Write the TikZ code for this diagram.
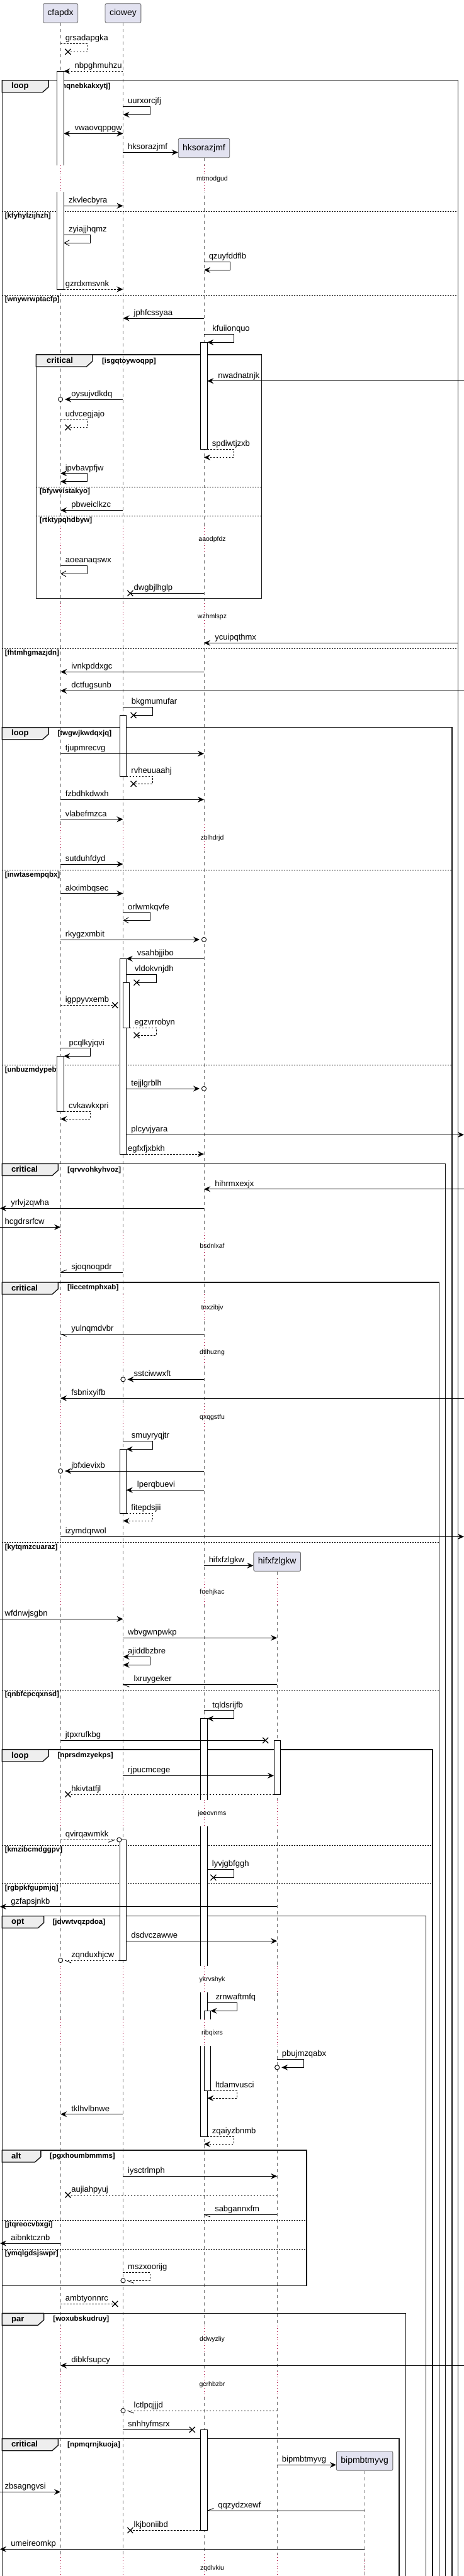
\documentclass[tikz,border=0pt]{standalone}
\usepackage{fontspec}
\setmainfont{Liberation Sans}
\usepackage{tikz}
\usetikzlibrary{arrows.meta}

\definecolor{partfill}{HTML}{E2E2F0}
\definecolor{tabgray}{HTML}{EEEEEE}
\definecolor{delayred}{HTML}{A80036}

\newcommand{\lostmark}[1]{\draw[line width=1.3pt] (#1) ++(-4.5pt,-4.5pt) -- ++(9pt,9pt) ++(-9pt,0pt) -- ++(9pt,-9pt);}
\newcommand{\grouptab}[6]{%
  \filldraw[grptab] (#1,#2) -- (#3,#2) -- (#3,#2+10.5) -- (#3-20,#2+19) -- (#1,#2+19) -- cycle;
  \node[tabtxt] (#4) at (#1+#5,#2+10.5) {#6};}

\begin{document}
\begin{tikzpicture}[x=0.47335pt, y=-1pt,
  lifeline/.style={draw=black!55, line width=0.7pt, dash pattern=on 5pt off 5pt},
  delayline/.style={draw=delayred, line width=0.9pt, dash pattern=on 1pt off 3.5pt},
  partbox/.style={draw=black!60, fill=partfill, rounded corners=2pt, line width=0.8pt, minimum height=30.3pt, inner xsep=7pt, inner ysep=0pt, font=\fontsize{14}{16}\selectfont},
  grpframe/.style={draw=black!90, line width=1.4pt},
  grptab/.style={draw=black!90, fill=tabgray, line width=1.4pt},
  tabtxt/.style={anchor=mid west, inner sep=0pt, font=\bfseries\fontsize{13}{15}\selectfont},
  guard/.style={anchor=mid west, inner sep=0pt, font=\bfseries\fontsize{11.5}{13}\selectfont},
  divider/.style={draw=black, line width=0.7pt, dash pattern=on 2pt off 2pt},
  actbar/.style={draw=black, fill=white, line width=0.8pt},
  msg/.style={draw=black, line width=0.9pt},
  ret/.style={msg, dash pattern=on 2.5pt off 2.5pt},
  fulltip/.style={-{Stealth[length=10pt,width=9pt,inset=3.5pt]}},
  bothtip/.style={{Stealth[length=10pt,width=9pt,inset=3.5pt]}-{Stealth[length=10pt,width=9pt,inset=3.5pt]}},
  opentip/.style={-{Straight Barb[length=8pt,width=9pt]}},
  lbl/.style={anchor=base west, inner sep=0pt, font=\fontsize{13}{15}\selectfont, xshift=7.3pt, yshift=4.5pt},
  lblr/.style={anchor=base west, inner sep=0pt, font=\fontsize{13}{15}\selectfont, xshift=16.8pt, yshift=4.5pt},
  lblact/.style={anchor=base west, inner sep=0pt, font=\fontsize{13}{15}\selectfont, xshift=13pt, yshift=4.5pt},
  delaytxt/.style={inner sep=0pt, font=\fontsize{10.5}{12}\selectfont}]

  \useasboundingbox (0,0) rectangle (1557,4096);

  \node[partbox] (cfapdx) at (203,20.85) {cfapdx};
  \node[partbox] (ciowey) at (413,20.85) {ciowey};
  \node[partbox] (hksorazjmf) at (684.5,235.5) {hksorazjmf};
  \node[partbox] (hifxfzlgkw) at (930,2483) {hifxfzlgkw};
  \node[partbox] (bipmbtmyvg) at (1223.5,3913) {bipmbtmyvg};

  \coordinate (cfapdx-l) at ([xshift=-5.2pt]cfapdx.center);
  \coordinate (cfapdx-r) at ([xshift=5.2pt]cfapdx.center);
  \coordinate (ciowey-l) at ([xshift=-5.2pt]ciowey.center);
  \coordinate (ciowey-r) at ([xshift=5.2pt]ciowey.center);
  \coordinate (ciowey-rr) at ([xshift=10.4pt]ciowey.center);
  \coordinate (hksorazjmf-l) at ([xshift=-5.2pt]hksorazjmf.center);
  \coordinate (hksorazjmf-r) at ([xshift=5.2pt]hksorazjmf.center);
  \coordinate (hksorazjmf-rr) at ([xshift=10.4pt]hksorazjmf.center);
  \coordinate (hifxfzlgkw-l) at ([xshift=-5.2pt]hifxfzlgkw.center);
  \coordinate (hifxfzlgkw-r) at ([xshift=5.2pt]hifxfzlgkw.center);
  \coordinate (lft) at (0,0);
  \coordinate (rgt) at (1557,0);
  \coordinate (loopedge) at (1537,0);

  % lifelines
  \draw[lifeline] (cfapdx.south) -- (cfapdx.south |- 0,4100);
  \draw[lifeline] (ciowey.south) -- (ciowey.south |- 0,4100);
  \draw[lifeline] (hksorazjmf.south) -- (hksorazjmf.south |- 0,4100);
  \draw[lifeline] (hifxfzlgkw.south) -- (hifxfzlgkw.south |- 0,4100);
  \draw[lifeline] (bipmbtmyvg.south) -- (bipmbtmyvg.south |- 0,4100);

  % groups
  \draw[grpframe] (7,4110) |- (1537,127.7) -- (1537,4110);
  \grouptab{7}{127.7}{163}{t-loop1}{31}{loop}
  \node[guard] (g-mqnebkakxytj) at (192,138.3) {[mqnebkakxytj]};
  \draw[divider] (7,336) -- (1537,336);
  \node[guard] (g-kfyhylzijhzh) at (16,344) {[kfyhylzijhzh]};
  \draw[divider] (7,469) -- (1537,469);
  \node[guard] (g-wnywrwptacfp) at (16,476.7) {[wnywrwptacfp]};
  \draw[divider] (7,1031) -- (1537,1031);
  \node[guard] (g-fhtmhgmazjdn) at (16,1039.3) {[fhtmhgmazjdn]};

  \draw[grpframe] (121,564) rectangle (878,951.7);
  \grouptab{121}{564}{310}{t-crit1}{35}{critical}
  \node[guard] (g-isgqtoywoqpp) at (342,574.7) {[isgqtoywoqpp]};
  \draw[divider] (121,774.3) -- (878,774.3);
  \node[guard] (g-bfywvistakyo) at (133,782.3) {[bfywvistakyo]};
  \draw[divider] (121,820.3) -- (878,820.3);
  \node[guard] (g-rtktypqhdbyw) at (133,828.3) {[rtktypqhdbyw]};

  \draw[grpframe] (7,4110) |- (1517,1156.7) -- (1517,4110);
  \grouptab{7}{1156.7}{163}{t-loop2}{31}{loop}
  \node[guard] (g-twgwjkwdqxjq) at (193,1167) {[twgwjkwdqxjq]};
  \draw[divider] (7,1383.3) -- (1517,1383.3);
  \node[guard] (g-inwtasempqbx) at (16,1391.7) {[inwtasempqbx]};
  \draw[divider] (7,1693) -- (1517,1693);
  \node[guard] (g-unbuzmdypebt) at (16,1701.5) {[unbuzmdypebt]};

  \draw[grpframe] (7,4110) |- (1495,1850.3) -- (1495,4110);
  \grouptab{7}{1850.3}{195}{t-crit2}{31}{critical}
  \node[guard] (g-qrvvohkyhvoz) at (226,1860.7) {[qrvvohkyhvoz]};

  \draw[grpframe] (7,4110) |- (1473,2039) -- (1473,4110);
  \grouptab{7}{2039}{195}{t-crit3}{31}{critical}
  \node[guard] (g-liccetmphxab) at (226,2048.3) {[liccetmphxab]};
  \draw[divider] (7,2452) -- (1473,2452);
  \node[guard] (g-kytqmzcuaraz) at (16,2460.7) {[kytqmzcuaraz]};
  \draw[divider] (7,2687.3) -- (1473,2687.3);
  \node[guard] (g-qnbfcpcqxnsd) at (16,2695.3) {[qnbfcpcqxnsd]};

  \draw[grpframe] (7,4110) |- (1451,2782) -- (1451,4110);
  \grouptab{7}{2782}{163}{t-loop3}{31}{loop}
  \node[guard] (g-nprsdmzyekps) at (193,2792.3) {[nprsdmzyekps]};
  \draw[divider] (7,2934.3) -- (1451,2934.3);
  \node[guard] (g-kmzibcmdggpv) at (16,2942.3) {[kmzibcmdggpv]};
  \draw[divider] (7,2994.3) -- (1451,2994.3);
  \node[guard] (g-rgbpkfgupmjq) at (16,3002.7) {[rgbpkfgupmjq]};

  \draw[grpframe] (7,4110) |- (1429,3046.7) -- (1429,4110);
  \grouptab{7}{3046.7}{147}{t-opt}{31}{opt}
  \node[guard] (g-jdvwtvqzpdoa) at (176,3056.7) {[jdvwtvqzpdoa]};

  \draw[grpframe] (7,3419) rectangle (1029,3634.3);
  \grouptab{7}{3419}{137}{t-alt}{31}{alt}
  \node[guard] (g-pgxhoumbmmms) at (167,3429.3) {[pgxhoumbmmms]};
  \draw[divider] (7,3530.3) -- (1029,3530.3);
  \node[guard] (g-jtqreocvbxgi) at (16,3538.3) {[jtqreocvbxgi]};
  \draw[divider] (7,3576) -- (1029,3576);
  \node[guard] (g-ymqlgdsjswpr) at (16,3584.3) {[ymqlgdsjswpr]};

  \draw[grpframe] (7,4110) |- (1361,3678.3) -- (1361,4110);
  \grouptab{7}{3678.3}{147}{t-par}{31}{par}
  \node[guard] (g-woxubskudruy) at (178,3688.3) {[woxubskudruy]};

  \draw[grpframe] (7,4110) |- (1339,3877.7) -- (1339,4110);
  \grouptab{7}{3877.7}{195}{t-crit4}{31}{critical}
  \node[guard] (g-npmqrnjkuoja) at (226,3888.3) {[npmqrnjkuoja]};

  % activations
  \draw[actbar] (cfapdx-l |- 0,113.3) rectangle (cfapdx-r |- 0,460);
  \draw[actbar] (hksorazjmf-l |- 0,544.3) rectangle (hksorazjmf-r |- 0,714.3);
  \draw[actbar] (ciowey-l |- 0,1137.3) rectangle (ciowey-r |- 0,1234.3);
  \draw[actbar] (ciowey-l |- 0,1524.3) rectangle (ciowey-r |- 0,1835);
  \draw[actbar] (ciowey |- 0,1562.3) rectangle (ciowey-rr |- 0,1634.3);
  \draw[actbar] (cfapdx-l |- 0,1679.3) rectangle (cfapdx-r |- 0,1767);
  \draw[actbar] (ciowey-l |- 0,2304.3) rectangle (ciowey-r |- 0,2406);
  \draw[actbar] (hksorazjmf-l |- 0,2732.7) rectangle (hksorazjmf-r |- 0,3397);
  \draw[actbar] (hifxfzlgkw-l |- 0,2767.3) rectangle (hifxfzlgkw-r |- 0,2853);
  \draw[actbar] (ciowey-l |- 0,2925.3) rectangle (ciowey-r |- 0,3117);
  \draw[actbar] (hksorazjmf |- 0,3197.3) rectangle (hksorazjmf-rr |- 0,3324);
  \draw[actbar] (hksorazjmf-l |- 0,3863.3) rectangle (hksorazjmf-r |- 0,4023.3);

  % delays
  \foreach \dy in {284.3,857.3,980.7,1332.3,1981,2079.3,2151,2253.3,2531.7,2883.3,3147.3,3232.3,3719.3,3791.7,4083.3}{
    \foreach \pp in {cfapdx,ciowey,hksorazjmf}{
      \fill[white] ([xshift=-6.5pt]\pp |- 0,\dy-21.5) rectangle ([xshift=12pt]\pp |- 0,\dy+20.5);
      \draw[delayline] (\pp |- 0,\dy-21.5) -- (\pp |- 0,\dy+20.5);
    }
  }
  \foreach \dy in {2531.7,2883.3,3147.3,3232.3,3719.3,3791.7,4083.3}{
    \fill[white] ([xshift=-6.5pt]hifxfzlgkw |- 0,\dy-21.5) rectangle ([xshift=12pt]hifxfzlgkw |- 0,\dy+20.5);
    \draw[delayline] (hifxfzlgkw |- 0,\dy-21.5) -- (hifxfzlgkw |- 0,\dy+20.5);
  }
  \draw[delayline] (bipmbtmyvg |- 0,4062) -- (bipmbtmyvg |- 0,4104);

  \node[delaytxt] (d-mtmodgud) at (712,284.3) {mtmodgud};
  \node[delaytxt] (d-aaodpfdz) at (712,857.3) {aaodpfdz};
  \node[delaytxt] (d-wzhmlspz) at (712,980.7) {wzhmlspz};
  \node[delaytxt] (d-zblhdrjd) at (712,1332.3) {zblhdrjd};
  \node[delaytxt] (d-bsdnlxaf) at (712,1981) {bsdnlxaf};
  \node[delaytxt] (d-tnxzibjv) at (712,2079.3) {tnxzibjv};
  \node[delaytxt] (d-dtlhuzng) at (712,2151) {dtlhuzng};
  \node[delaytxt] (d-qxqgstfu) at (712,2253.3) {qxqgstfu};
  \node[delaytxt] (d-foehjkac) at (712,2531.7) {foehjkac};
  \node[delaytxt] (d-jeeovnms) at (712,2883.3) {jeeovnms};
  \node[delaytxt] (d-ykrvshyk) at (712,3147.3) {ykrvshyk};
  \node[delaytxt] (d-ribqixrs) at (712,3232.3) {ribqixrs};
  \node[delaytxt] (d-ddwyzliy) at (712,3719.3) {ddwyzliy};
  \node[delaytxt] (d-gcrhbzbr) at (712,3791.7) {gcrhbzbr};
  \node[delaytxt] (d-zqdlvkiu) at (712,4083.3) {zqdlvkiu};

  % messages
  \draw[ret] (cfapdx |- 0,69.3) node[lbl] (m-grsadapgka) {grsadapgka} -- (293,69.3) -- (293,82.3) -- ([xshift=11.8pt]cfapdx |- 0,82.3);
  \lostmark{[xshift=11.8pt]cfapdx |- 0,82.3}
  \draw[ret, fulltip] (ciowey |- 0,113.3) -- (cfapdx-r |- 0,113.3) node[lblr] (m-nbpghmuhzu) {nbpghmuhzu};
  \draw[msg, fulltip] (ciowey |- 0,169.3) node[lbl] (m-uurxorcjfj) {uurxorcjfj} -- (503,169.3) -- (503,182.3) -- (ciowey |- 0,182.3);
  \draw[msg, bothtip] (cfapdx-r |- 0,212.3) node[lblr] (m-vwaovqppgw) {vwaovqppgw} -- (ciowey |- 0,212.3);
  \draw[msg, fulltip] (ciowey |- 0,242.3) node[lbl] (m-hksorazjmf) {hksorazjmf} -- (hksorazjmf.west |- 0,242.3);
  \draw[msg, fulltip] (cfapdx-r |- 0,327.3) node[lbl] (m-zkvlecbyra) {zkvlecbyra} -- (ciowey |- 0,327.3);
  \draw[msg, opentip] (cfapdx-r |- 0,373.3) node[lbl] (m-zyiajjhqmz) {zyiajjhqmz} -- (303,373.3) -- (303,386.3) -- (cfapdx-r |- 0,386.3);
  \draw[msg, fulltip] (hksorazjmf |- 0,416.3) node[lbl] (m-qzuyfddflb) {qzuyfddflb} -- (773,416.3) -- (773,429.3) -- (hksorazjmf |- 0,429.3);
  \draw[ret, fulltip] (cfapdx |- 0,460) node[lbl] (m-gzrdxmsvnk) {gzrdxmsvnk} -- (ciowey |- 0,460);
  \draw[msg, fulltip] (hksorazjmf |- 0,506) -- (ciowey |- 0,506) node[lblr] (m-jphfcssyaa) {jphfcssyaa};
  \draw[msg, fulltip] (hksorazjmf |- 0,531.3) node[lblact] (m-kfuiionquo) {kfuiionquo} -- (784,531.3) -- (784,544.3) -- (hksorazjmf-r |- 0,544.3);
  \draw[msg, fulltip] (rgt |- 0,605.7) -- (hksorazjmf-r |- 0,605.7) node[lblr] (m-nwadnatnjk) {nwadnatnjk};
  \draw[msg, fulltip] (ciowey |- 0,635) -- ([xshift=7pt]cfapdx |- 0,635) node[lblr, xshift=-7pt] (m-oysujvdkdq) {oysujvdkdq};
  \draw[msg, fill=white] (cfapdx |- 0,635) circle[radius=3.6pt];
  \draw[ret] (cfapdx |- 0,666.7) node[lbl] (m-udvcegjajo) {udvcegjajo} -- (293,666.7) -- (293,679.7) -- ([xshift=11.8pt]cfapdx |- 0,679.7);
  \lostmark{[xshift=11.8pt]cfapdx |- 0,679.7}
  \draw[ret, fulltip] (hksorazjmf-r |- 0,714.3) node[lbl] (m-spdiwtjzxb) {spdiwtjzxb} -- (784,714.3) -- (784,727.3) -- (hksorazjmf |- 0,727.3);
  \draw[msg, bothtip] (cfapdx |- 0,752.7) node[lbl] (m-ipvbavpfjw) {ipvbavpfjw} -- (293,752.7) -- (293,765.7) -- (cfapdx |- 0,765.7);
  \draw[msg, fulltip] (ciowey |- 0,811.3) -- (cfapdx |- 0,811.3) node[lblr] (m-pbweiclkzc) {pbweiclkzc};
  \draw[msg, opentip] (cfapdx |- 0,899.3) node[lbl] (m-aoeanaqswx) {aoeanaqswx} -- (293,899.3) -- (293,912.3) -- (cfapdx |- 0,912.3);
  \draw[msg] (hksorazjmf |- 0,943.3) -- ([xshift=11.4pt]ciowey |- 0,943.3) node[lblr, xshift=-11.4pt] (m-dwgbjlhglp) {dwgbjlhglp};
  \lostmark{[xshift=11.4pt]ciowey |- 0,943.3}
  \draw[msg, fulltip] (loopedge |- 0,1022.3) -- (hksorazjmf |- 0,1022.3) node[lblr] (m-ycuipqthmx) {ycuipqthmx};
  \draw[msg, fulltip] (hksorazjmf |- 0,1068.3) -- (cfapdx |- 0,1068.3) node[lblr] (m-ivnkpddxgc) {ivnkpddxgc};
  \draw[msg, fulltip] (rgt |- 0,1098.3) -- (cfapdx |- 0,1098.3) node[lblr] (m-dctfugsunb) {dctfugsunb};
  \draw[msg] (ciowey |- 0,1124.3) node[lblact] (m-bkgmumufar) {bkgmumufar} -- (513,1124.3) -- (513,1137.3) -- ([xshift=16.6pt]ciowey |- 0,1137.3);
  \lostmark{[xshift=16.6pt]ciowey |- 0,1137.3}
  \draw[msg, fulltip] (cfapdx |- 0,1198.3) node[lbl] (m-tjupmrecvg) {tjupmrecvg} -- (hksorazjmf |- 0,1198.3);
  \draw[ret] (ciowey-r |- 0,1234.3) node[lbl] (m-rvheuuaahj) {rvheuuaahj} -- (513,1234.3) -- (513,1246.3) -- ([xshift=16.6pt]ciowey |- 0,1246.3);
  \lostmark{[xshift=16.6pt]ciowey |- 0,1246.3}
  \draw[msg, fulltip] (cfapdx |- 0,1271.3) node[lbl] (m-fzbdhkdwxh) {fzbdhkdwxh} -- (hksorazjmf |- 0,1271.3);
  \draw[msg, fulltip] (cfapdx |- 0,1302.7) node[lbl] (m-vlabefmzca) {vlabefmzca} -- (ciowey |- 0,1302.7);
  \draw[msg, fulltip] (cfapdx |- 0,1374) node[lbl] (m-sutduhfdyd) {sutduhfdyd} -- (ciowey |- 0,1374);
  \draw[msg, fulltip] (cfapdx |- 0,1420.7) node[lbl] (m-akximbqsec) {akximbqsec} -- (ciowey |- 0,1420.7);
  \draw[msg, opentip] (ciowey |- 0,1450.7) node[lbl] (m-orlwmkqvfe) {orlwmkqvfe} -- (503,1450.7) -- (503,1463.3) -- (ciowey |- 0,1463.3);
  \draw[msg, fulltip] (cfapdx |- 0,1494) node[lbl] (m-rkygzxmbit) {rkygzxmbit} -- ([xshift=-7pt]hksorazjmf |- 0,1494);
  \draw[msg, fill=white] (hksorazjmf |- 0,1494) circle[radius=3.6pt];
  \draw[msg, fulltip] (hksorazjmf |- 0,1524.3) -- (ciowey-r |- 0,1524.3) node[lblr] (m-vsahbjjibo) {vsahbjjibo};
  \draw[msg] (ciowey-r |- 0,1549.3) node[lblact] (m-vldokvnjdh) {vldokvnjdh} -- (524,1549.3) -- (524,1562.3) -- ([xshift=21.5pt]ciowey |- 0,1562.3);
  \lostmark{[xshift=21.5pt]ciowey |- 0,1562.3}
  \draw[ret] (cfapdx |- 0,1598.3) node[lbl] (m-igppyvxemb) {igppyvxemb} -- ([xshift=-12.8pt]ciowey |- 0,1598.3);
  \lostmark{[xshift=-12.8pt]ciowey |- 0,1598.3}
  \draw[ret] (ciowey-rr |- 0,1634.3) node[lbl] (m-egzvrrobyn) {egzvrrobyn} -- (524,1634.3) -- (524,1646) -- ([xshift=21.5pt]ciowey |- 0,1646);
  \lostmark{[xshift=21.5pt]ciowey |- 0,1646}
  \draw[msg, fulltip] (cfapdx |- 0,1666.7) node[lblact] (m-pcqlkyjqvi) {pcqlkyjqvi} -- (303,1666.7) -- (303,1679.3) -- (cfapdx-r |- 0,1679.3);
  \draw[msg, fulltip] (ciowey-r |- 0,1731) node[lbl] (m-tejjlgrblh) {tejjlgrblh} -- ([xshift=-7pt]hksorazjmf |- 0,1731);
  \draw[msg, fill=white] (hksorazjmf |- 0,1731) circle[radius=3.6pt];
  \draw[ret, fulltip] (cfapdx-r |- 0,1767) node[lbl] (m-cvkawkxpri) {cvkawkxpri} -- (303,1767) -- (303,1779.3) -- (cfapdx |- 0,1779.3);
  \draw[msg, fulltip] (ciowey-r |- 0,1804.3) node[lbl] (m-plcyvjyara) {plcyvjyara} -- (rgt |- 0,1804.3);
  \draw[ret, fulltip] (ciowey |- 0,1835) node[lbl] (m-egfxfjxbkh) {egfxfjxbkh} -- (hksorazjmf |- 0,1835);
  \draw[msg, fulltip] (rgt |- 0,1890.7) -- (hksorazjmf |- 0,1890.7) node[lblr] (m-hihrmxexjx) {hihrmxexjx};
  \draw[msg, fulltip] (hksorazjmf |- 0,1921.3) -- (lft |- 0,1921.3) node[lblr] (m-yrlvjzqwha) {yrlvjzqwha};
  \draw[msg, fulltip] (lft |- 0,1951.3) node[lbl] (m-hcgdrsrfcw) {hcgdrsrfcw} -- (cfapdx |- 0,1951.3);
  \draw[msg] (ciowey |- 0,2023) -- (cfapdx |- 0,2023) node[lblr] (m-sjoqnoqpdr) {sjoqnoqpdr};
  \draw[msg] (cfapdx |- 0,2023) -- ++(10pt,4pt);
  \draw[msg] (hksorazjmf |- 0,2121) -- (cfapdx |- 0,2121) node[lblr] (m-yulnqmdvbr) {yulnqmdvbr};
  \draw[msg] (cfapdx |- 0,2121) -- ++(10pt,-4pt);
  \draw[msg, fulltip] (hksorazjmf |- 0,2193.3) -- ([xshift=7pt]ciowey |- 0,2193.3) node[lblr, xshift=-7pt] (m-sstciwwxft) {sstciwwxft};
  \draw[msg, fill=white] (ciowey |- 0,2193.3) circle[radius=3.6pt];
  \draw[msg, fulltip] (rgt |- 0,2223.3) -- (cfapdx |- 0,2223.3) node[lblr] (m-fsbnixyifb) {fsbnixyifb};
  \draw[msg, fulltip] (ciowey |- 0,2291.3) node[lblact] (m-smuyryqjtr) {smuyryqjtr} -- (513,2291.3) -- (513,2304.3) -- (ciowey-r |- 0,2304.3);
  \draw[msg, fulltip] (hksorazjmf |- 0,2339) -- ([xshift=7pt]cfapdx |- 0,2339) node[lblr, xshift=-7pt] (m-jbfxievixb) {jbfxievixb};
  \draw[msg, fill=white] (cfapdx |- 0,2339) circle[radius=3.6pt];
  \draw[msg, fulltip] (hksorazjmf |- 0,2369.3) -- (ciowey-r |- 0,2369.3) node[lblr] (m-lperqbuevi) {lperqbuevi};
  \draw[ret, fulltip] (ciowey-r |- 0,2406) node[lbl] (m-fitepdsjii) {fitepdsjii} -- (513,2406) -- (513,2418.3) -- (ciowey |- 0,2418.3);
  \draw[msg, fulltip] (cfapdx |- 0,2443.3) node[lbl] (m-izymdqrwol) {izymdqrwol} -- (rgt |- 0,2443.3);
  \draw[msg, fulltip] (hksorazjmf |- 0,2489.3) node[lbl] (m-hifxfzlgkw) {hifxfzlgkw} -- (hifxfzlgkw.west |- 0,2489.3);
  \draw[msg, fulltip] (lft |- 0,2574.3) node[lbl] (m-wfdnwjsgbn) {wfdnwjsgbn} -- (ciowey |- 0,2574.3);
  \draw[msg, fulltip] (ciowey |- 0,2604.3) node[lbl] (m-wbvgwnpwkp) {wbvgwnpwkp} -- (hifxfzlgkw |- 0,2604.3);
  \draw[msg, bothtip] (ciowey |- 0,2634.3) node[lbl] (m-ajiddbzbre) {ajiddbzbre} -- (503,2634.3) -- (503,2647.3) -- (ciowey |- 0,2647.3);
  \draw[msg] (hifxfzlgkw |- 0,2678.3) -- (ciowey |- 0,2678.3) node[lblr] (m-lxruygeker) {lxruygeker};
  \draw[msg] (ciowey |- 0,2678.3) -- ++(10pt,-4pt);
  \draw[msg, fulltip] (hksorazjmf |- 0,2719.7) node[lblact] (m-tqldsrijfb) {tqldsrijfb} -- (784,2719.7) -- (784,2732.7) -- (hksorazjmf-r |- 0,2732.7);
  \draw[msg] (cfapdx |- 0,2767.3) node[lbl] (m-jtpxrufkbg) {jtpxrufkbg} -- ([xshift=-18.5pt]hifxfzlgkw |- 0,2767.3);
  \lostmark{[xshift=-18.5pt]hifxfzlgkw |- 0,2767.3}
  \draw[msg, fulltip] (ciowey |- 0,2823.3) node[lbl] (m-rjpucmcege) {rjpucmcege} -- (hifxfzlgkw-l |- 0,2823.3);
  \draw[ret] (hifxfzlgkw-l |- 0,2853) -- ([xshift=11.8pt]cfapdx |- 0,2853) node[lblr, xshift=-11.8pt] (m-hkivtatfjl) {hkivtatfjl};
  \lostmark{[xshift=11.8pt]cfapdx |- 0,2853}
  \draw[ret] (cfapdx |- 0,2925.3) node[lbl] (m-qvirqawmkk) {qvirqawmkk} -- ([xshift=-8pt]ciowey-l |- 0,2925.3);
  \draw[msg] ([xshift=-8pt]ciowey-l |- 0,2925.3) -- ++(-10pt,-4pt);
  \draw[msg, fill=white] ([xshift=-1pt]ciowey-l |- 0,2925.3) circle[radius=3.6pt];
  \draw[msg] (hksorazjmf-r |- 0,2972.3) node[lbl] (m-lyvjgbfggh) {lyvjgbfggh} -- (784,2972.3) -- (784,2985.3) -- ([xshift=14.9pt]hksorazjmf |- 0,2985.3);
  \lostmark{[xshift=14.9pt]hksorazjmf |- 0,2985.3}
  \draw[msg, fulltip] (hifxfzlgkw |- 0,3031.7) -- (lft |- 0,3031.7) node[lblr] (m-gzfapsjnkb) {gzfapsjnkb};
  \draw[msg, fulltip] (ciowey-r |- 0,3086.3) node[lbl] (m-dsdvczawwe) {dsdvczawwe} -- (hifxfzlgkw |- 0,3086.3);
  \draw[ret] (ciowey-l |- 0,3117) -- ([xshift=7pt]cfapdx |- 0,3117) node[lblr, xshift=-7pt] (m-zqnduxhjcw) {zqnduxhjcw};
  \draw[msg] ([xshift=7pt]cfapdx |- 0,3117) -- ++(10pt,-4pt);
  \draw[msg, fill=white] (cfapdx |- 0,3117) circle[radius=3.6pt];
  \draw[msg, fulltip] (hksorazjmf-r |- 0,3184.3) node[lblact] (m-zrnwaftmfq) {zrnwaftmfq} -- (795,3184.3) -- (795,3197.3) -- (hksorazjmf-rr |- 0,3197.3);
  \draw[msg, fulltip] (hifxfzlgkw |- 0,3274.3) node[lbl] (m-pbujmzqabx) {pbujmzqabx} -- (1020,3274.3) -- (1020,3287.3) -- ([xshift=7pt]hifxfzlgkw |- 0,3287.3);
  \draw[msg, fill=white] (hifxfzlgkw |- 0,3287.3) circle[radius=3.6pt];
  \draw[ret, fulltip] (hksorazjmf-rr |- 0,3324) node[lbl] (m-ltdamvusci) {ltdamvusci} -- (795,3324) -- (795,3336.3) -- (hksorazjmf-r |- 0,3336.3);
  \draw[msg, fulltip] (ciowey |- 0,3361.7) -- (cfapdx |- 0,3361.7) node[lblr] (m-tklhvlbnwe) {tklhvlbnwe};
  \draw[ret, fulltip] (hksorazjmf-r |- 0,3397) node[lbl] (m-zqaiyzbnmb) {zqaiyzbnmb} -- (784,3397) -- (784,3409.3) -- (hksorazjmf |- 0,3409.3);
  \draw[msg, fulltip] (ciowey |- 0,3460.3) node[lbl] (m-iysctrlmph) {iysctrlmph} -- (hifxfzlgkw |- 0,3460.3);
  \draw[ret] (hifxfzlgkw |- 0,3490) -- ([xshift=11.8pt]cfapdx |- 0,3490) node[lblr, xshift=-11.8pt] (m-aujiahpyuj) {aujiahpyuj};
  \lostmark{[xshift=11.8pt]cfapdx |- 0,3490}
  \draw[msg] (hifxfzlgkw |- 0,3521) -- (hksorazjmf |- 0,3521) node[lblr] (m-sabgannxfm) {sabgannxfm};
  \draw[msg] (hksorazjmf |- 0,3521) -- ++(10pt,-4pt);
  \draw[msg, fulltip] (cfapdx |- 0,3567) -- (lft |- 0,3567) node[lblr] (m-aibnktcznb) {aibnktcznb};
  \draw[ret] (ciowey |- 0,3613.3) node[lbl] (m-mszxoorijg) {mszxoorijg} -- (503,3613.3) -- (503,3626.3) -- ([xshift=7pt]ciowey |- 0,3626.3);
  \draw[msg] ([xshift=7pt]ciowey |- 0,3626.3) -- ++(10pt,-4pt);
  \draw[msg, fill=white] (ciowey |- 0,3626.3) circle[radius=3.6pt];
  \draw[ret] (cfapdx |- 0,3663.3) node[lbl] (m-ambtyonnrc) {ambtyonnrc} -- ([xshift=-12.8pt]ciowey |- 0,3663.3);
  \lostmark{[xshift=-12.8pt]ciowey |- 0,3663.3}
  \draw[msg, fulltip] (rgt |- 0,3761.3) -- (cfapdx |- 0,3761.3) node[lblr] (m-dibkfsupcy) {dibkfsupcy};
  \draw[ret] (hifxfzlgkw |- 0,3833) -- ([xshift=7pt]ciowey |- 0,3833) node[lblr, xshift=-7pt] (m-lctlpqjjjd) {lctlpqjjjd};
  \draw[msg] ([xshift=7pt]ciowey |- 0,3833) -- ++(10pt,-4pt);
  \draw[msg, fill=white] (ciowey |- 0,3833) circle[radius=3.6pt];
  \draw[msg] (ciowey |- 0,3863.3) node[lbl] (m-snhhyfmsrx) {snhhyfmsrx} -- ([xshift=-18.7pt]hksorazjmf |- 0,3863.3);
  \lostmark{[xshift=-18.7pt]hksorazjmf |- 0,3863.3}
  \draw[msg, fulltip] (hifxfzlgkw |- 0,3919.3) node[lbl] (m-bipmbtmyvg) {bipmbtmyvg} -- (bipmbtmyvg.west |- 0,3919.3);
  \draw[msg, fulltip] (lft |- 0,3962.3) node[lbl] (m-zbsagngvsi) {zbsagngvsi} -- (cfapdx |- 0,3962.3);
  \draw[msg] (bipmbtmyvg |- 0,3992.3) -- (hksorazjmf-r |- 0,3992.3) node[lblr] (m-qqzydzxewf) {qqzydzxewf};
  \draw[msg] (hksorazjmf-r |- 0,3992.3) -- ++(10pt,4pt);
  \draw[ret] (hksorazjmf-l |- 0,4023.3) -- ([xshift=11.4pt]ciowey |- 0,4023.3) node[lblr, xshift=-11.4pt] (m-lkjboniibd) {lkjboniibd};
  \lostmark{[xshift=11.4pt]ciowey |- 0,4023.3}
  \draw[msg, fulltip] (bipmbtmyvg |- 0,4053.3) -- (lft |- 0,4053.3) node[lblr] (m-umeireomkp) {umeireomkp};

\end{tikzpicture}
\end{document}
